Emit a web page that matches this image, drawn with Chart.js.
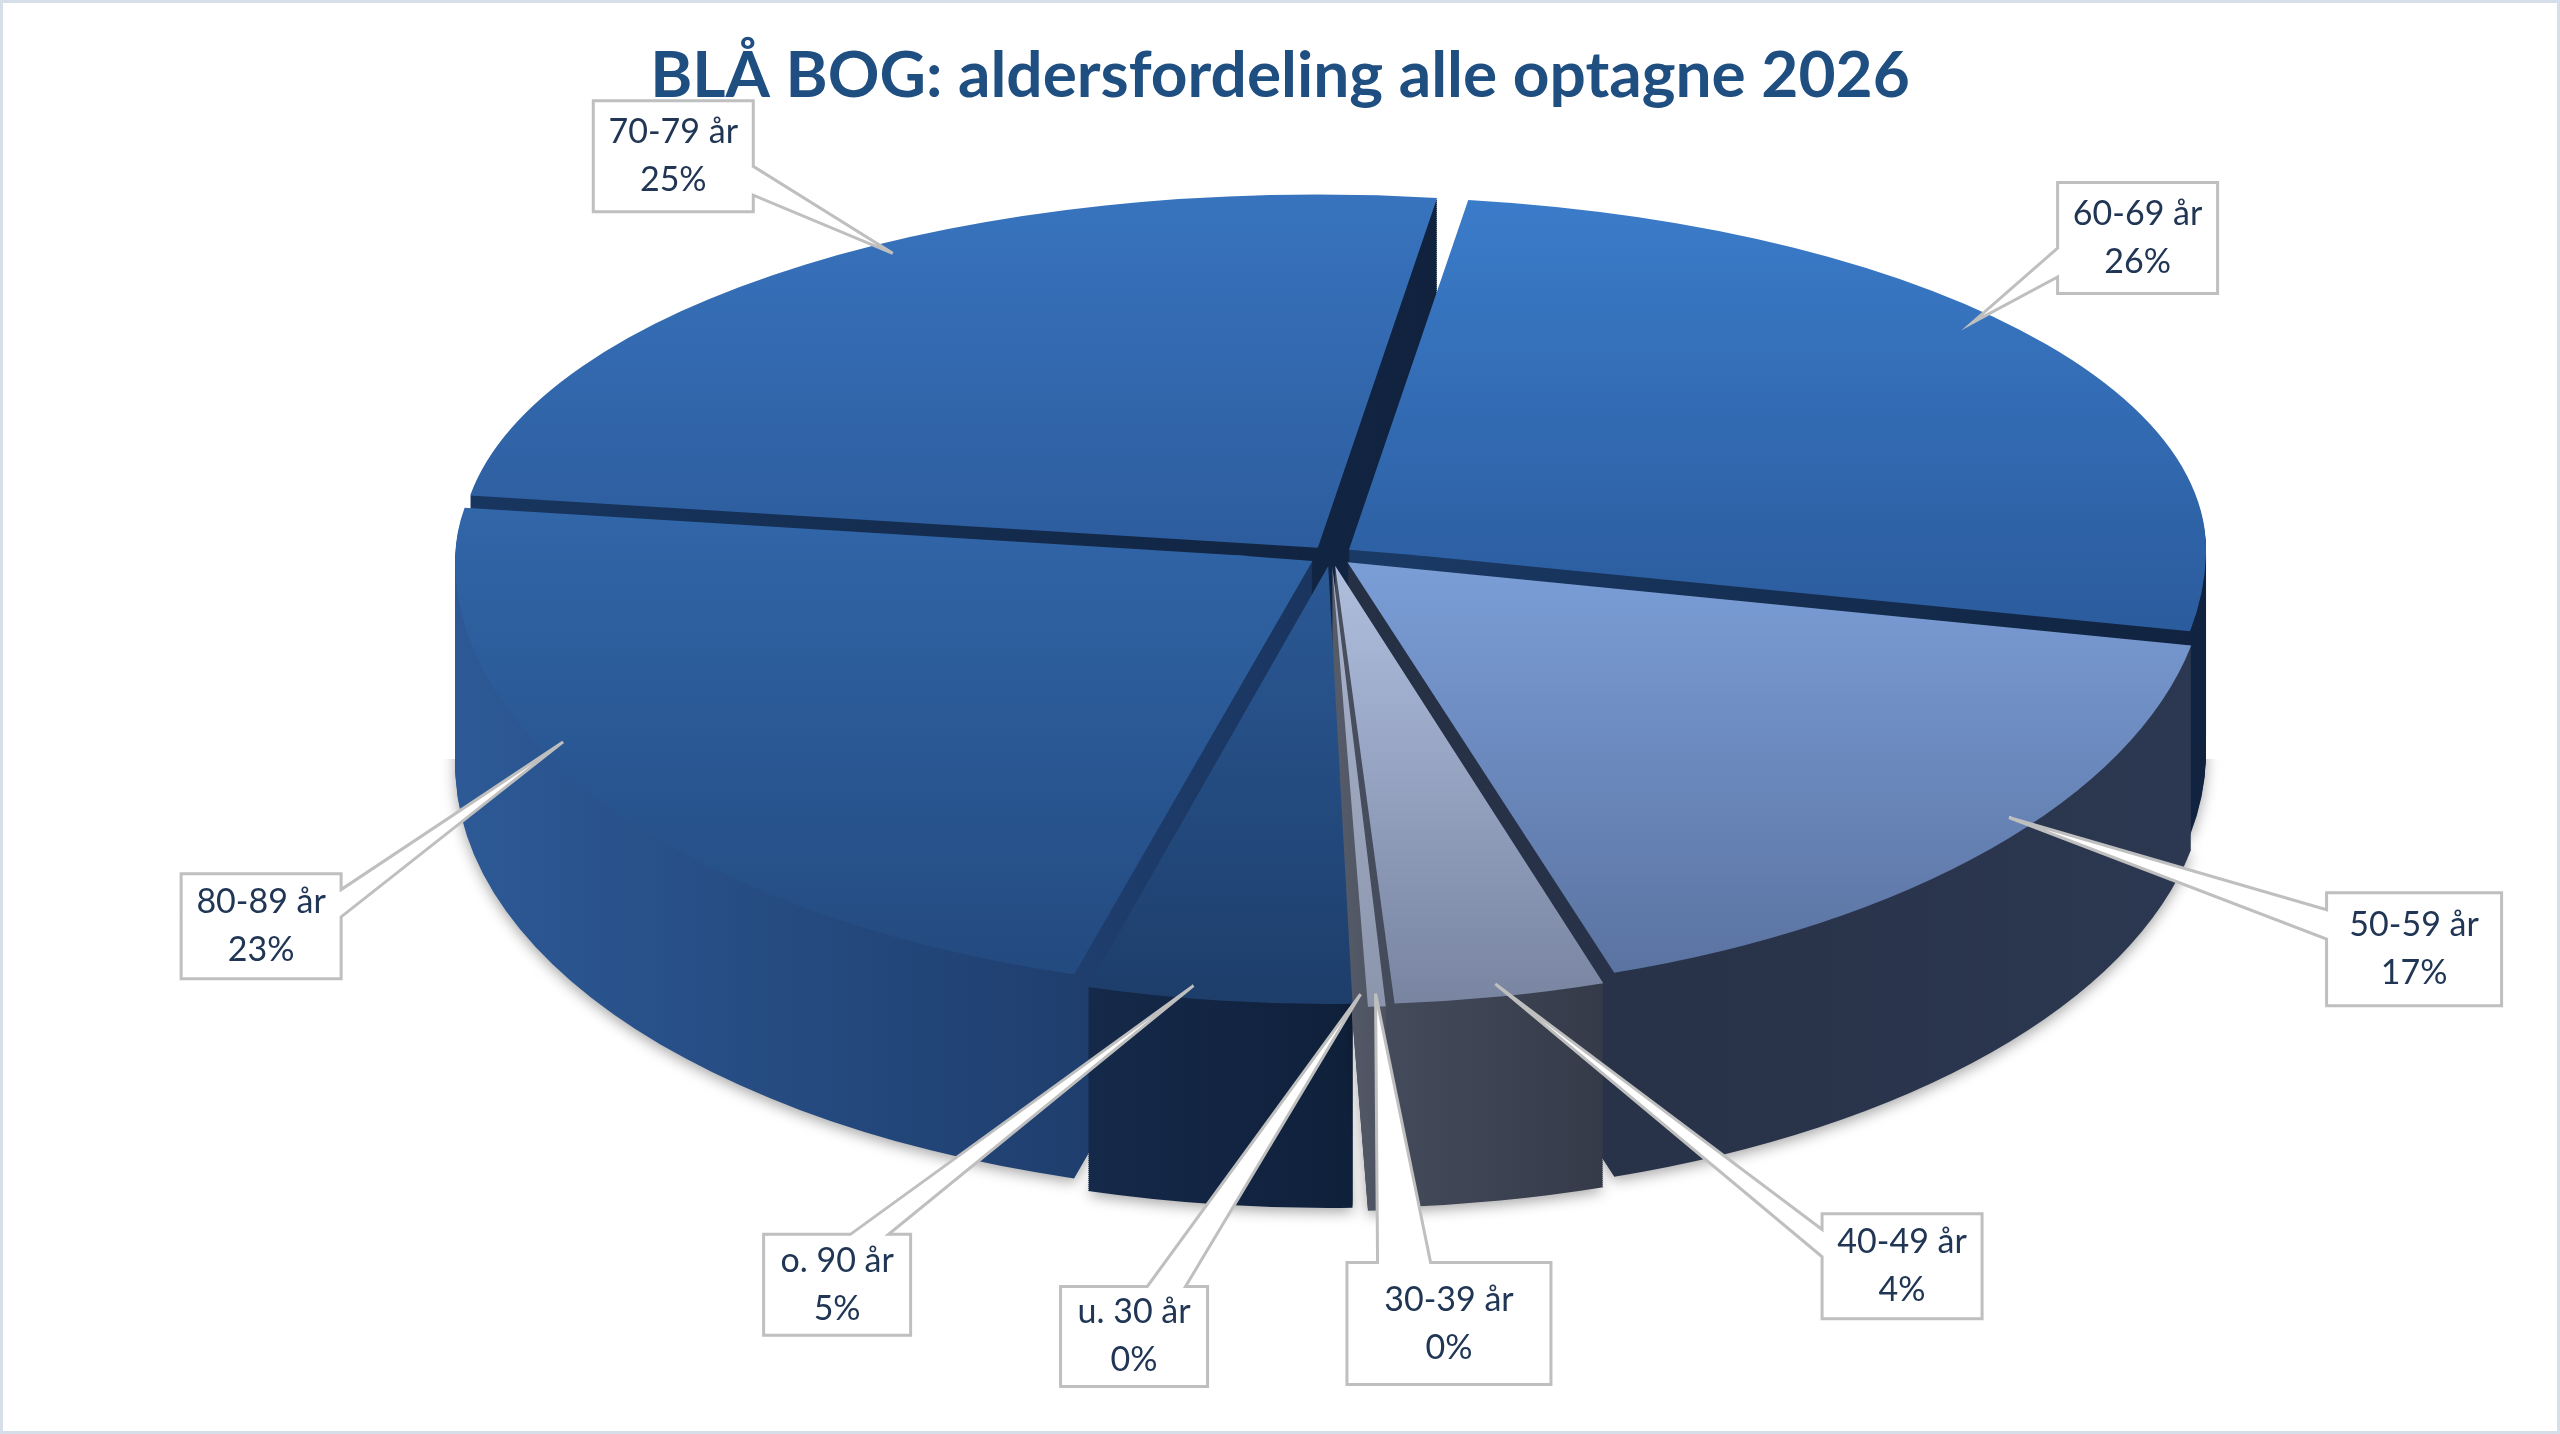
<!DOCTYPE html>
<html lang="da">
<head>
<meta charset="utf-8">
<title>BLÅ BOG: aldersfordeling alle optagne 2026</title>
<script src="https://cdn.jsdelivr.net/npm/chart.js@4.4.1/dist/chart.umd.min.js"></script>
<style>
  html, body { margin: 0; padding: 0; background: #ffffff; overflow: hidden; }
  #graf { display: block; }
</style>
</head>
<body>
<canvas id="graf" width="2560" height="1434"></canvas>
<script>
// aldersgrupper i den rækkefølge de ligger i lagkagen, med uret fra toppen
const aldersgrupper = ["60-69 år", "50-59 år", "40-49 år", "30-39 år", "u. 30 år", "o. 90 år", "80-89 år", "70-79 år"];
// andel af de optagne i procent (aflæst); de to små grupper er under en halv procent
const andele = [26, 17, 4, 0.45, 0.1, 5, 23, 25];

// farver: toppen af skiven (lys øverst, mørk nederst) og siden (venstre, højre)
const farveTopLys   = ["#3b7cca", "#7a9dd6", "#aebcdc", "#a9b3cb", "#cdd1d8", "#2a5894", "#3166a9", "#3874bf"];
const farveTopMoerk = ["#2b5c9e", "#5a72a0", "#77839f", "#8a94ab", "#b5b9c1", "#1d3d69", "#234a7f", "#2d5d9e"];
const farveSideV    = ["#1a3a66", "#263045", "#474e5e", "#555b69", "#9a9fa8", "#15294a", "#2d5a97", "#183660"];
const farveSideH    = ["#10223e", "#2c3851", "#343a48", "#4c5260", "#8a8f98", "#0f203a", "#1a3560", "#10223e"];

// callout-bokse: centrum som andel af lærredet, størrelse i px, siden pilen udgår fra
// og en lille vinkeljustering (grader) af hvor pilen rammer skiven
const boksPlacering = [
  [0.835, 0.166, 160, 111, "left", -6],
  [0.943, 0.662, 175, 113, "left", -4],
  [0.743, 0.883, 160, 105, "left", 0],
  [0.566, 0.923, 204, 122, "top", 0],
  [0.443, 0.932, 147, 100, "top", 0],
  [0.327, 0.896, 147, 101, "top", 2],
  [0.102, 0.646, 160, 105, "right", 7],
  [0.263, 0.109, 160, 111, "right", 6]
];

const titel = "BLÅ BOG: aldersfordeling alle optagne 2026";

// placering af lagkagen (andele af lærredet). Bageste halvdel trykkes mere sammen
// end forreste, så det ligner perspektivet i originalen.
const LAGKAGE = { midtX: 0.5198, midtY: 0.3872, radiusX: 0.352, radiusBag: 0.259, radiusFor: 0.3155, dybde: 0.1424 };

function geometri(chart) {
  const arcs = chart.getDatasetMeta(0).data;
  const a0 = arcs[0];
  const E = a0.outerRadius + (a0.options.offset || 0) / 2;
  return {
    cx: a0.x, cy: a0.y, E: E,
    tx: Math.round(chart.width * LAGKAGE.midtX),
    ty: Math.round(chart.height * LAGKAGE.midtY),
    sx: chart.width * LAGKAGE.radiusX / E,
    syBag: chart.height * LAGKAGE.radiusBag / E,
    syFor: chart.height * LAGKAGE.radiusFor / E,
    dybde: Math.round(chart.height * LAGKAGE.dybde)
  };
}

// sætter transform og klip for den ene halvdel (bag = true: bageste halvdel)
function halvdel(ctx, g, d, bag) {
  const sy = bag ? g.syBag : g.syFor;
  ctx.translate(g.tx, g.ty + d);
  ctx.scale(g.sx, sy);
  ctx.translate(-g.cx, -g.cy);
  ctx.beginPath();
  if (bag) ctx.rect(g.cx - 2 * g.E, g.cy - 2 * g.E, 4 * g.E, 2 * g.E + 1 / sy);
  else ctx.rect(g.cx - 2 * g.E, g.cy, 4 * g.E, 2 * g.E);
  ctx.clip();
}

function tilSkaerm(g, px, py) {
  const sy = py < g.cy ? g.syBag : g.syFor;
  return { x: g.tx + g.sx * (px - g.cx), y: g.ty + sy * (py - g.cy) };
}

// samme forskydning som Chart.js bruger når skiven tegnes med offset
function skiveCentrum(arc) {
  const offset = (arc.options.offset || 0) / 4;
  const halv = (arc.startAngle + arc.endAngle) / 2;
  const fix = 1 - Math.sin(Math.min(Math.PI, arc.circumference || 0));
  const t = offset + offset * fix;
  return { x: arc.x + Math.cos(halv) * t, y: arc.y + Math.sin(halv) * t };
}

function omfang(arc) {
  const c = skiveCentrum(arc);
  let x0 = c.x, x1 = c.x, y0 = c.y, y1 = c.y;
  for (let k = 0; k <= 32; k++) {
    const a = arc.startAngle + (arc.endAngle - arc.startAngle) * k / 32;
    const x = c.x + arc.outerRadius * Math.cos(a);
    const y = c.y + arc.outerRadius * Math.sin(a);
    x0 = Math.min(x0, x); x1 = Math.max(x1, x);
    y0 = Math.min(y0, y); y1 = Math.max(y1, y);
  }
  return { x0, x1, y0, y1 };
}

const lagkage3d = {
  id: "lagkage3d",
  beforeDatasetsDraw(chart) {
    const ctx = chart.ctx;
    const g = geometri(chart);
    const arcs = chart.getDatasetMeta(0).data;

    // toppen får en lodret gradient pr. skive
    arcs.forEach((arc, i) => {
      const o = omfang(arc);
      const grad = ctx.createLinearGradient(0, o.y0, 0, o.y1);
      grad.addColorStop(0, farveTopLys[i]);
      grad.addColorStop(1, farveTopMoerk[i]);
      arc.options = Object.assign({}, arc.options, { backgroundColor: grad });
    });

    // siderne tegnes bagfra og frem ved at stable skiven nedad
    const orden = arcs.map((a, i) => i).sort((a, b) => {
      const ya = Math.sin((arcs[a].startAngle + arcs[a].endAngle) / 2);
      const yb = Math.sin((arcs[b].startAngle + arcs[b].endAngle) / 2);
      return ya - yb;
    });

    for (const i of orden) {
      const arc = arcs[i];
      const o = omfang(arc);
      const side = ctx.createLinearGradient(o.x0, 0, o.x1, 0);
      side.addColorStop(0, farveSideV[i]);
      side.addColorStop(1, farveSideH[i]);
      const topOptions = arc.options;
      arc.options = Object.assign({}, topOptions, { backgroundColor: side });
      for (let d = g.dybde; d > 0; d -= 2) {
        for (const bag of [true, false]) {
          ctx.save();
          if (d === g.dybde && !bag) {
            ctx.shadowColor = "rgba(0, 0, 0, 0.35)";
            ctx.shadowBlur = 14;
            ctx.shadowOffsetY = 4;
          }
          halvdel(ctx, g, d, bag);
          arc.draw(ctx);
          ctx.restore();
        }
      }
      arc.options = topOptions;
    }

    // bageste halvdel af toppen
    ctx.save();
    halvdel(ctx, g, 0, true);
    arcs.forEach(arc => arc.draw(ctx));
    ctx.restore();

    // forreste halvdel tegnes af Chart.js selv
    ctx.save();
    halvdel(ctx, g, 0, false);
  },
  afterDatasetsDraw(chart) {
    chart.ctx.restore();
    tegnEtiketter(chart);
  },
  afterDraw(chart) {
    const ctx = chart.ctx;
    ctx.save();
    ctx.strokeStyle = "#d5dee9";
    ctx.lineWidth = 3;
    ctx.strokeRect(1.5, 1.5, chart.width - 3, chart.height - 3);
    ctx.restore();
  }
};

function klem(v, a, b) { return Math.max(a, Math.min(b, v)); }

function tegnCallout(ctx, bx, by, bw, bh, side, ax, ay) {
  const l = bx - bw / 2, r = bx + bw / 2, t = by - bh / 2, b = by + bh / 2;
  ctx.beginPath();
  ctx.moveTo(l, t);
  if (side === "top") {
    const m = klem(ax, l + 0.28 * bw, r - 0.28 * bw), h = 0.13 * bw;
    ctx.lineTo(m - h, t); ctx.lineTo(ax, ay); ctx.lineTo(m + h, t);
  }
  ctx.lineTo(r, t);
  if (side === "right") {
    const m = klem(ay, t + 0.28 * bh, b - 0.28 * bh), h = 0.13 * bh;
    ctx.lineTo(r, m - h); ctx.lineTo(ax, ay); ctx.lineTo(r, m + h);
  }
  ctx.lineTo(r, b);
  if (side === "bottom") {
    const m = klem(ax, l + 0.28 * bw, r - 0.28 * bw), h = 0.13 * bw;
    ctx.lineTo(m + h, b); ctx.lineTo(ax, ay); ctx.lineTo(m - h, b);
  }
  ctx.lineTo(l, b);
  if (side === "left") {
    const m = klem(ay, t + 0.28 * bh, b - 0.28 * bh), h = 0.13 * bh;
    ctx.lineTo(l, m + h); ctx.lineTo(ax, ay); ctx.lineTo(l, m - h);
  }
  ctx.closePath();
  ctx.fillStyle = "#ffffff";
  ctx.fill();
  ctx.strokeStyle = "#bfbfbf";
  ctx.lineWidth = 3;
  ctx.lineJoin = "miter";
  ctx.stroke();
}

function tegnEtiketter(chart) {
  const ctx = chart.ctx;
  const g = geometri(chart);
  const arcs = chart.getDatasetMeta(0).data;
  const total = andele.reduce((s, v) => s + v, 0);

  arcs.forEach((arc, i) => {
    const [fx, fy, bw, bh, side, juster] = boksPlacering[i];
    const c = skiveCentrum(arc);
    const midt = (arc.startAngle + arc.endAngle) / 2 + juster * Math.PI / 180;
    const r = arc.outerRadius * 0.97;
    const p = tilSkaerm(g, c.x + r * Math.cos(midt), c.y + r * Math.sin(midt));

    const bx = chart.width * fx;
    const by = chart.height * fy;

    ctx.save();
    tegnCallout(ctx, bx, by, bw, bh, side, p.x, p.y);
    ctx.fillStyle = "#203654";
    ctx.font = "34px Lato";
    ctx.textAlign = "center";
    ctx.textBaseline = "middle";
    ctx.fillText(aldersgrupper[i], bx, by - 24);
    ctx.fillText(Math.round(andele[i] / total * 100) + "%", bx, by + 24);
    ctx.restore();
  });
}

function lavGraf() {
  Chart.defaults.font.family = "Lato";
  new Chart(document.getElementById("graf").getContext("2d"), {
    type: "pie",
    data: {
      labels: aldersgrupper,
      datasets: [{
        data: andele,
        backgroundColor: farveTopLys,
        borderWidth: 0,
        offset: 64,
        clip: false
      }]
    },
    options: {
      responsive: false,
      devicePixelRatio: 1,
      animation: false,
      rotation: 8,
      plugins: {
        legend: { display: false },
        tooltip: { enabled: false },
        title: {
          display: true,
          text: titel,
          color: "#1f4e80",
          font: { family: "Lato", size: 64, weight: "bold" },
          padding: { top: 38, bottom: 10 }
        }
      }
    },
    plugins: [lagkage3d]
  });
}

if (document.fonts && document.fonts.load) {
  Promise.all([document.fonts.load("bold 64px Lato"), document.fonts.load("34px Lato")])
    .then(lavGraf, lavGraf);
} else {
  lavGraf();
}
</script>
</body>
</html>
